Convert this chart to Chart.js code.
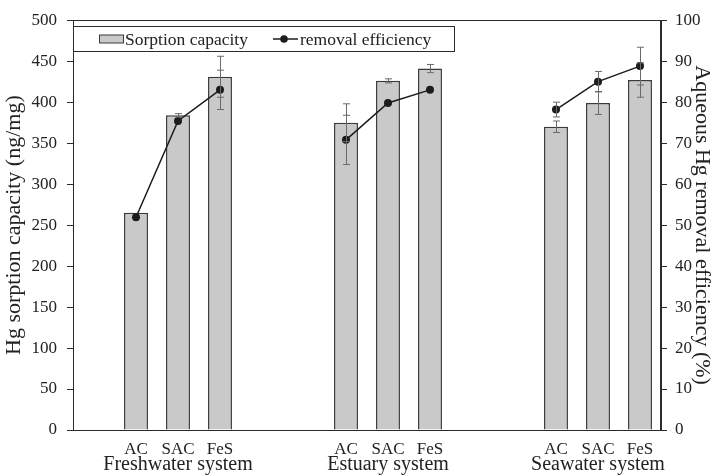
<!DOCTYPE html>
<html>
<head>
<meta charset="utf-8">
<title>Hg sorption</title>
<script src="https://cdn.jsdelivr.net/npm/chart.js@4.4.1/dist/chart.umd.min.js"></script>
<style>
  html, body { margin: 0; padding: 0; background: #fff; }
  #wrap { width: 717px; height: 476px; }
</style>
</head>
<body>
<div id="wrap"><canvas id="myChart" width="717" height="476"></canvas></div>
<script>
const systems = ["Freshwater system", "Estuary system", "Seawater system"];
const materials = ["AC", "SAC", "FeS"];

// per material, in system order
const sorptionCapacity = [265, 384, 431, 375, 426, 441, 370, 399, 427];
const sorptionError = [0, 2, 25, 23, 2.5, 5, 7, 14, 21];
const removalEfficiency = [51.9, 75.4, 83.0, 70.8, 79.8, 83.0, 78.2, 85.0, 88.8];
const removalError = [0, 0, 4.8, 6, 0, 0, 1.8, 2.5, 4.6];

const capacityTicks = { min: 0, max: 500, step: 50 };
const efficiencyTicks = { min: 0, max: 100, step: 10 };

const darkColor = "#2b2b2b";
const barFill = "#c9c9c9";
const errorColor = "#6a6a6a";

// spread the groups out on the category axis with empty slots between them
const slotLabels = [];
const groupLabels = [];
const barData = [];
const barErr = [];
const lineData = [];
const lineErr = [];

function addGap() {
    slotLabels.push("");
    groupLabels.push("");
    barData.push(null);
    barErr.push(0);
    lineData.push(null);
    lineErr.push(0);
}

addGap();
systems.forEach((system, g) => {
    if (g > 0) {
        addGap();
        addGap();
    }
    materials.forEach((material, k) => {
        const i = g * materials.length + k;
        slotLabels.push(material);
        groupLabels.push(k === 1 ? system : "");
        barData.push(sorptionCapacity[i]);
        barErr.push(sorptionError[i]);
        lineData.push(removalEfficiency[i]);
        lineErr.push(removalError[i]);
    });
});

Chart.defaults.font.family = "'Liberation Serif', 'Times New Roman', serif";
Chart.defaults.color = "#222";

const frame = {
    id: "frame",
    beforeDatasetsDraw(chart) {
        const { ctx, chartArea: a } = chart;
        ctx.save();
        ctx.strokeStyle = darkColor;
        ctx.lineWidth = 1;
        ctx.strokeRect(Math.round(a.left) + 0.5, Math.round(a.top) + 0.5,
            Math.round(a.right - a.left) - 1, Math.round(a.bottom - a.top));
        ctx.restore();
    },
};

const errorBars = {
    id: "errorBars",
    afterDatasetsDraw(chart) {
        const ctx = chart.ctx;
        ctx.save();
        ctx.strokeStyle = errorColor;
        ctx.lineWidth = 1;
        chart.data.datasets.forEach((ds, di) => {
            if (!ds.errors) return;
            const meta = chart.getDatasetMeta(di);
            const scale = chart.scales[ds.yAxisID];
            meta.data.forEach((el, i) => {
                const v = ds.data[i];
                const e = ds.errors[i];
                if (v == null || !e) return;
                const x = Math.round(el.x) + 0.5;
                const y1 = scale.getPixelForValue(v + e);
                const y2 = scale.getPixelForValue(v - e);
                ctx.beginPath();
                ctx.moveTo(x, y1);
                ctx.lineTo(x, y2);
                ctx.moveTo(x - 3.5, y1);
                ctx.lineTo(x + 3.5, y1);
                ctx.moveTo(x - 3.5, y2);
                ctx.lineTo(x + 3.5, y2);
                ctx.stroke();
            });
        });
        ctx.restore();
    },
};

// boxed legend sitting inside the top-left of the plot
const boxLegend = {
    id: "boxLegend",
    afterDraw(chart) {
        const { ctx, chartArea: a } = chart;
        const bars = chart.data.datasets[1];
        const line = chart.data.datasets[0];
        const left = Math.round(a.left) + 0.5;
        const top = 26.5;
        const w = 381;
        const h = 25;
        const mid = top + h / 2;
        ctx.save();
        ctx.fillStyle = "#fff";
        ctx.fillRect(left, top, w, h);
        ctx.strokeStyle = darkColor;
        ctx.lineWidth = 1;
        ctx.strokeRect(left, top, w, h);

        ctx.fillStyle = bars.backgroundColor;
        ctx.fillRect(99.5, mid - 4, 24, 8);
        ctx.strokeStyle = bars.borderColor;
        ctx.strokeRect(99.5, mid - 4, 24, 8);

        ctx.font = "17.5px 'Liberation Serif', serif";
        ctx.fillStyle = "#222";
        ctx.textBaseline = "middle";
        ctx.fillText(bars.label, 125, mid + 1);

        ctx.strokeStyle = line.borderColor;
        ctx.lineWidth = 1.5;
        ctx.beginPath();
        ctx.moveTo(273, mid);
        ctx.lineTo(298, mid);
        ctx.stroke();
        ctx.fillStyle = line.pointBackgroundColor;
        ctx.beginPath();
        ctx.arc(284, mid, 3.8, 0, Math.PI * 2);
        ctx.fill();

        ctx.fillStyle = "#222";
        ctx.fillText(line.label, 300, mid + 1);
        ctx.restore();
    },
};

const ctx = document.getElementById("myChart");

new Chart(ctx, {
    type: "bar",
    data: {
        labels: slotLabels,
        datasets: [
            {
                type: "line",
                label: "removal efficiency",
                data: lineData,
                errors: lineErr,
                yAxisID: "y2",
                xAxisID: "x",
                borderColor: "#1c1c1c",
                borderWidth: 1.5,
                pointRadius: 4,
                pointBackgroundColor: "#1c1c1c",
                pointBorderColor: "#1c1c1c",
                pointBorderWidth: 0,
                spanGaps: false,
                order: 0,
            },
            {
                type: "bar",
                label: "Sorption capacity",
                data: barData,
                errors: barErr,
                yAxisID: "y",
                xAxisID: "x",
                backgroundColor: barFill,
                borderColor: "#3a3a3a",
                borderWidth: 1.5,
                barPercentage: 0.57,
                categoryPercentage: 1,
                order: 1,
            },
        ],
    },
    options: {
        responsive: false,
        animation: false,
        maintainAspectRatio: false,
        layout: { padding: { top: 20, left: 0, right: 0, bottom: 0 } },
        plugins: {
            legend: { display: false },
            tooltip: { enabled: false },
        },
        scales: {
            x: {
                position: "bottom",
                weight: 0,
                offset: true,
                grid: { display: false },
                border: { display: true, color: darkColor },
                ticks: {
                    autoSkip: false,
                    maxRotation: 0,
                    minRotation: 0,
                    padding: 3,
                    font: { size: 17, lineHeight: 1 },
                },
                afterFit(scale) {
                    scale.height = 26;
                },
            },
            x2: {
                type: "category",
                labels: groupLabels,
                position: "bottom",
                weight: 1,
                offset: true,
                grid: { display: false, drawTicks: false },
                border: { display: false },
                ticks: {
                    autoSkip: false,
                    maxRotation: 0,
                    minRotation: 0,
                    padding: 0,
                    font: { size: 20, lineHeight: 0.9 },
                },
                afterFit(scale) {
                    scale.height = 20;
                },
            },
            y: {
                position: "left",
                min: capacityTicks.min,
                max: capacityTicks.max,
                grid: { drawOnChartArea: false, tickLength: 6, tickColor: darkColor },
                border: { color: darkColor },
                ticks: { stepSize: capacityTicks.step, padding: 10, font: { size: 17 } },
                title: {
                    display: true,
                    text: "Hg sorption capacity (ng/mg)",
                    font: { size: 22, lineHeight: 1 },
                    padding: { top: 3, bottom: 0 },
                },
                afterFit(scale) {
                    scale.width = 73;
                },
            },
            y2: {
                position: "right",
                min: efficiencyTicks.min,
                max: efficiencyTicks.max,
                grid: { drawOnChartArea: false, tickLength: 6, tickColor: darkColor },
                border: { color: darkColor },
                ticks: { stepSize: efficiencyTicks.step, padding: 8, font: { size: 17 } },
                title: {
                    display: true,
                    text: "Aqueous Hg removal efficiency (%)",
                    font: { size: 22, lineHeight: 1 },
                    padding: { top: 4, bottom: 0 },
                },
                afterFit(scale) {
                    scale.width = 56;
                },
            },
        },
    },
    plugins: [frame, errorBars, boxLegend],
});
</script>
</body>
</html>
